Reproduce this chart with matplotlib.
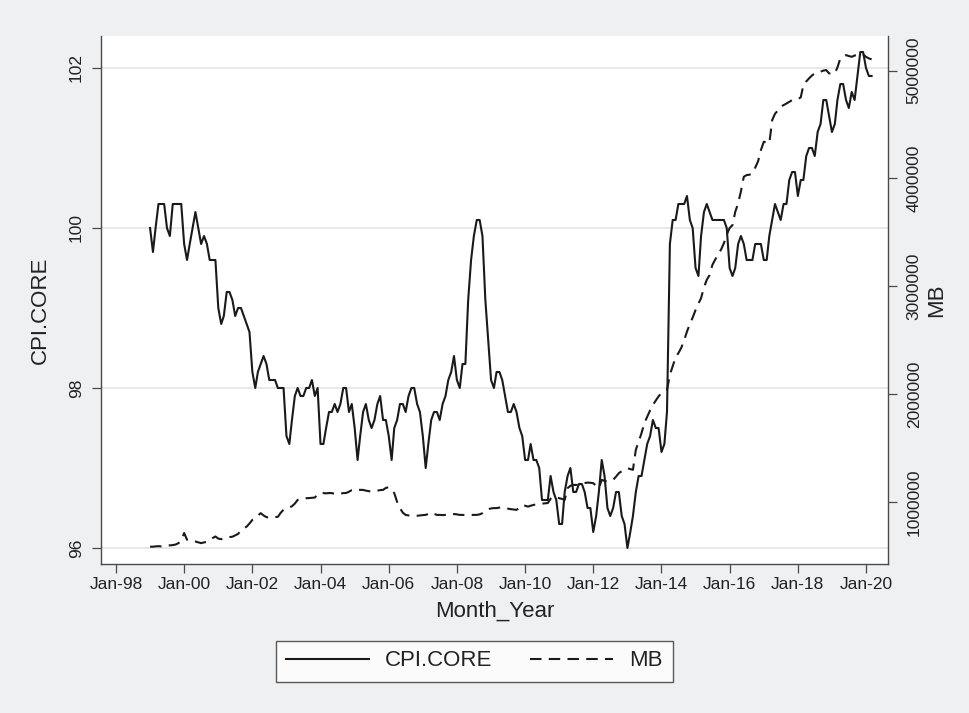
import matplotlib
matplotlib.use('Agg')
import matplotlib.pyplot as plt
import matplotlib.dates as mdates
import pandas as pd
from datetime import datetime

plt.rcParams['font.family'] = ['Liberation Sans', 'DejaVu Sans']

# Core CPI index, monthly from Jan-1999
cpi_core = [
    100.0, 99.7, 100.0, 100.3, 100.3, 100.3, 100.0, 99.9, 100.3, 100.3, 100.3, 100.3,
    99.8, 99.6, 99.8, 100.0, 100.2, 100.0, 99.8, 99.9, 99.8, 99.6, 99.6, 99.6,
    99.0, 98.8, 98.9, 99.2, 99.2, 99.1, 98.9, 99.0, 99.0, 98.9, 98.8, 98.7,
    98.2, 98.0, 98.2, 98.3, 98.4, 98.3, 98.1, 98.1, 98.1, 98.0, 98.0, 98.0,
    97.4, 97.3, 97.6, 97.9, 98.0, 97.9, 97.9, 98.0, 98.0, 98.1, 97.9, 98.0,
    97.3, 97.3, 97.5, 97.7, 97.7, 97.8, 97.7, 97.8, 98.0, 98.0, 97.7, 97.8,
    97.5, 97.1, 97.4, 97.7, 97.8, 97.6, 97.5, 97.6, 97.8, 97.9, 97.6, 97.6,
    97.4, 97.1, 97.5, 97.6, 97.8, 97.8, 97.7, 97.9, 98.0, 98.0, 97.8, 97.7,
    97.4, 97.0, 97.3, 97.6, 97.7, 97.7, 97.6, 97.8, 97.9, 98.1, 98.2, 98.4,
    98.1, 98.0, 98.3, 98.3, 99.1, 99.6, 99.9, 100.1, 100.1, 99.9, 99.1, 98.6,
    98.1, 98.0, 98.2, 98.2, 98.1, 97.9, 97.7, 97.7, 97.8, 97.7, 97.5, 97.4,
    97.1, 97.1, 97.3, 97.1, 97.1, 97.0, 96.6, 96.6, 96.6, 96.9, 96.7, 96.6,
    96.3, 96.3, 96.7, 96.9, 97.0, 96.7, 96.7, 96.8, 96.8, 96.7, 96.5, 96.5,
    96.2, 96.4, 96.7, 97.1, 96.9, 96.5, 96.4, 96.5, 96.7, 96.7, 96.4, 96.3,
    96.0, 96.2, 96.4, 96.7, 96.9, 96.9, 97.1, 97.3, 97.4, 97.6, 97.5, 97.5,
    97.2, 97.3, 97.7, 99.8, 100.1, 100.1, 100.3, 100.3, 100.3, 100.4, 100.1, 100.0,
    99.5, 99.4, 99.9, 100.2, 100.3, 100.2, 100.1, 100.1, 100.1, 100.1, 100.1, 100.0,
    99.5, 99.4, 99.5, 99.8, 99.9, 99.8, 99.6, 99.6, 99.6, 99.8, 99.8, 99.8,
    99.6, 99.6, 99.9, 100.1, 100.3, 100.2, 100.1, 100.3, 100.3, 100.6, 100.7, 100.7,
    100.4, 100.6, 100.6, 100.9, 101.0, 101.0, 100.9, 101.2, 101.3, 101.6, 101.6, 101.4,
    101.2, 101.3, 101.6, 101.8, 101.8, 101.6, 101.5, 101.7, 101.6, 101.9, 102.2, 102.2,
    102.0, 101.9, 101.9,
]

# Monetary base, thousands
mb_k = [
    585, 585, 588, 590, 588, 590, 595, 597, 600, 605, 618, 640,
    712, 650, 640, 635, 633, 625, 618, 625, 630, 645, 665, 680,
    660, 655, 660, 668, 674, 678, 690, 704, 735, 755, 772, 800,
    834, 850, 875, 896, 875, 859, 855, 857, 860, 862, 900, 928,
    940, 950, 960, 985, 1019, 1030, 1034, 1035, 1036, 1038, 1041, 1070,
    1082, 1082, 1080, 1083, 1082, 1075, 1072, 1078, 1082, 1083, 1095, 1110,
    1118, 1115, 1112, 1112, 1105, 1100, 1096, 1100, 1105, 1110, 1112, 1130,
    1137, 1110, 1082, 1000, 943, 900, 880, 875, 872, 871, 872, 875,
    878, 880, 890, 902, 890, 880, 880, 878, 880, 880, 880, 888,
    885, 880, 880, 879, 878, 880, 880, 880, 885, 896, 915, 933,
    940, 943, 943, 948, 952, 945, 938, 933, 930, 927, 945, 970,
    965, 957, 965, 972, 979, 982, 985, 988, 990, 1030, 1050, 1045,
    1035, 1028, 1019, 1128, 1150, 1158, 1158, 1158, 1165, 1175, 1180, 1178,
    1174, 1150, 1128, 1205, 1195, 1190, 1198, 1205, 1235, 1267, 1285, 1300,
    1313, 1305, 1298, 1483, 1560, 1638, 1730, 1790, 1850, 1900, 1940, 1980,
    2008, 2025, 2039, 2180, 2260, 2340, 2380, 2430, 2500, 2580, 2650, 2710,
    2780, 2840, 2890, 2990, 3060, 3105, 3200, 3250, 3300, 3340, 3400, 3480,
    3540, 3568, 3690, 3769, 3880, 4016, 4031, 4035, 4047, 4100, 4160, 4263,
    4340, 4335, 4325, 4541, 4600, 4630, 4665, 4680, 4696, 4710, 4727, 4733,
    4735, 4752, 4866, 4900, 4928, 4955, 4974, 4985, 4990, 5000, 5005, 4974,
    4975, 4974, 5030, 5113, 5130, 5144, 5135, 5128, 5140, 5144, 5159, 5150,
    5128, 5113, 5105,
]
mb = [v * 1000 for v in mb_k]

months = pd.date_range('1999-01-01', periods=len(cpi_core), freq='MS')
left_ticks = [96, 98, 100, 102]
right_ticks = [1000000, 2000000, 3000000, 4000000, 5000000]

bg = '#eef0f2'
ink = '#1a1a1a'
axis_col = '#4a4a4a'
txt = '#222222'

fig = plt.figure(figsize=(9.7, 7.13), dpi=100)
fig.patch.set_facecolor(bg)
ax = fig.add_axes([101 / 970, 1 - 564 / 713, 787 / 970, 528 / 713])
ax.set_facecolor('white')
ax2 = ax.twinx()

l1, = ax.plot(months, cpi_core, color=ink, linewidth=1.5, label='CPI.CORE', zorder=3)
l2, = ax2.plot(months, mb, color=ink, linewidth=1.5, linestyle=(0, (5.5, 3.5)), label='MB')

# x range: Jan-98 sits 15px right of the left axis, Jan-20 22px left of the right axis
d98 = mdates.date2num(datetime(1998, 1, 1))
d20 = mdates.date2num(datetime(2020, 1, 1))
per_px = (d20 - d98) / 750.0
ax.set_xlim(d98 - 15 * per_px, d20 + 22 * per_px)
ax.xaxis.set_major_locator(mdates.YearLocator(2, month=1, day=1))
ax.xaxis.set_major_formatter(mdates.DateFormatter('%b-%y'))

ax.set_ylim(95.8, 102.4)
ax.set_yticks(left_ticks)
ax2.set_ylim(424700, 5321000)
ax2.set_yticks(right_ticks)
ax2.set_yticklabels([str(t) for t in right_ticks])

ax.grid(True, axis='y', color='#e6e6e6', linewidth=1.3)
ax.set_axisbelow(True)

for a in (ax, ax2):
    for s in a.spines.values():
        s.set_visible(False)
ax.spines['left'].set_visible(True)
ax.spines['bottom'].set_visible(True)
ax2.spines['right'].set_visible(True)
for s in (ax.spines['left'], ax.spines['bottom'], ax2.spines['right']):
    s.set_color(axis_col)
    s.set_linewidth(1.0)

ax.tick_params(axis='x', length=6.5, width=0.9, color=axis_col, labelsize=12.5, pad=3, labelcolor=txt)
ax.tick_params(axis='y', length=6.5, width=0.9, color=axis_col, labelsize=12.5, pad=6, labelcolor=txt)
ax2.tick_params(axis='y', length=6.5, width=0.9, color=axis_col, labelsize=12.5, pad=7, labelcolor=txt)
for lab in ax.get_yticklabels() + ax2.get_yticklabels():
    lab.set_rotation(90)
    lab.set_va('center')

ax.set_xlabel('Month_Year', fontsize=16, color=txt, labelpad=6)
ax.set_ylabel('CPI.CORE', fontsize=16, color=txt)
ax2.set_ylabel('MB', fontsize=16, color=txt, labelpad=3)
ax.yaxis.set_label_coords(-0.0635, 0.481)

leg = fig.legend(handles=[l1, l2], loc='center', bbox_to_anchor=(474.5 / 970, 1 - 661 / 713),
                 ncol=2, fontsize=16, frameon=True, fancybox=False, handlelength=3.7,
                 handletextpad=0.75, columnspacing=1.7, borderpad=0.45)
leg.get_frame().set_edgecolor('#333333')
leg.get_frame().set_linewidth(1.0)
for t in leg.get_texts():
    t.set_color(txt)

fig.savefig('out.png', dpi=100, facecolor=bg)
